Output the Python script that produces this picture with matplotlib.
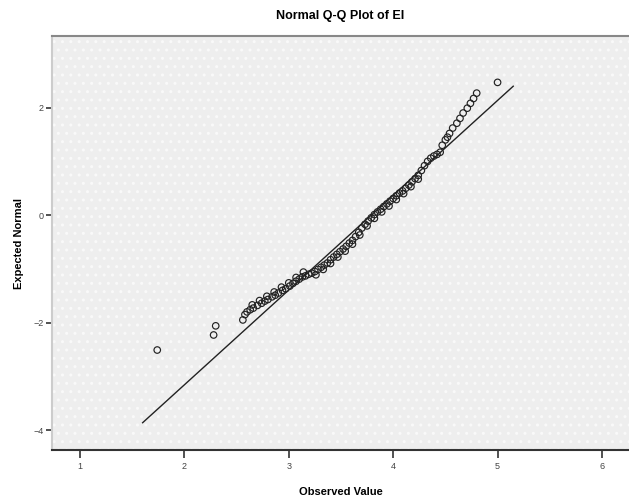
import numpy as np
import matplotlib
matplotlib.use("Agg")
import matplotlib.pyplot as plt
from matplotlib.patches import Rectangle

plt.rcParams['font.family'] = ['Liberation Sans', 'DejaVu Sans']

observed = [1.74, 2.28, 2.30,
            # lower band
            2.56, 2.60, 2.63, 2.66, 2.70, 2.74, 2.77, 2.80, 2.84, 2.87,
            2.90, 2.94, 2.97, 3.01, 3.04, 3.07, 3.10, 3.13, 3.16, 3.19,
            2.58, 2.65, 2.72, 2.79, 2.86, 2.93, 3.00, 3.07, 3.14,
            # middle band
            3.22, 3.25, 3.28, 3.31, 3.34, 3.37, 3.40, 3.43, 3.46, 3.49,
            3.52, 3.55, 3.58, 3.61, 3.64, 3.67, 3.70, 3.73, 3.76, 3.79,
            3.82, 3.85, 3.88, 3.91, 3.94, 3.97, 4.00, 4.03, 4.06, 4.09,
            4.12, 4.15, 4.18, 4.21, 4.24, 4.27,
            3.26, 3.33, 3.40, 3.47, 3.54, 3.61, 3.68, 3.75, 3.82, 3.89,
            3.96, 4.03, 4.10, 4.17, 4.24,
            # upper tail
            4.30, 4.33, 4.36, 4.39, 4.42, 4.45, 4.47, 4.50, 4.52, 4.54,
            4.57, 4.61, 4.64, 4.67, 4.71, 4.74, 4.77, 4.80, 5.00]
expected = [-2.51, -2.23, -2.06,
            -1.95, -1.80, -1.76, -1.73, -1.68, -1.64, -1.60, -1.57, -1.52, -1.49,
            -1.45, -1.40, -1.37, -1.32, -1.27, -1.23, -1.19, -1.15, -1.13, -1.10,
            -1.85, -1.67, -1.59, -1.51, -1.43, -1.34, -1.26, -1.16, -1.06,
            -1.08, -1.05, -1.01, -0.97, -0.93, -0.89, -0.83, -0.78, -0.73, -0.68,
            -0.63, -0.58, -0.52, -0.47, -0.40, -0.32, -0.24, -0.17, -0.11, -0.05,
            0.01, 0.06, 0.11, 0.16, 0.21, 0.26, 0.31, 0.36, 0.41, 0.45,
            0.50, 0.56, 0.62, 0.68, 0.74, 0.83,
            -1.11, -1.01, -0.90, -0.78, -0.67, -0.54, -0.37, -0.20, -0.06, 0.06,
            0.17, 0.29, 0.40, 0.53, 0.67,
            0.92, 1.00, 1.06, 1.10, 1.13, 1.17, 1.30, 1.40, 1.45, 1.52,
            1.62, 1.71, 1.80, 1.90, 1.99, 2.08, 2.17, 2.27, 2.47]

# reference line: normal with the sample mean / sd
ei_mean = 3.79
ei_sd = 0.567
line_x = np.array([1.60, 5.15])

x_ticks = [1, 2, 3, 4, 5, 6]
y_ticks = [2, 0, -2, -4]

fig = plt.figure(figsize=(6.29, 4.98), dpi=100)
ax = fig.add_axes([0.0827, 0.0964, 0.9173, 0.831])

# dotted grey background like SPSS
ax.set_facecolor('#eeeeee')
bg = Rectangle((0, 0), 1, 1, transform=ax.transAxes, facecolor='#eeeeee',
               edgecolor='#f9f9f9', hatch='..', linewidth=0, zorder=0)
ax.add_patch(bg)

ax.plot(line_x, (line_x - ei_mean) / ei_sd, color='#222222', lw=1.0, zorder=2)
ax.scatter(observed, expected, s=22, facecolors='none', edgecolors='#222222',
           linewidths=0.85, zorder=3)

ax.set_xlim(0.732, 6.259)
ax.set_ylim(-4.37, 3.33)
ax.set_xticks(x_ticks)
ax.set_yticks(y_ticks)
ax.tick_params(axis='x', direction='out', length=6, width=1.2, labelsize=6.5,
               color='#333333', labelcolor='#444444', pad=3)
ax.tick_params(axis='y', direction='out', length=4, width=1.2, labelsize=6.5,
               color='#333333', labelcolor='#444444', pad=2)

ax.spines['right'].set_visible(False)
ax.spines['top'].set_color('#888888')
ax.spines['top'].set_linewidth(1.5)
ax.spines['left'].set_color('#cccccc')
ax.spines['left'].set_linewidth(1.5)
ax.spines['bottom'].set_color('#333333')
ax.spines['bottom'].set_linewidth(1.5)

ax.set_title('Normal Q-Q Plot of EI', fontsize=9, fontweight='bold', pad=12)
ax.set_xlabel('Observed Value', fontsize=8, fontweight='bold', labelpad=11)
ax.set_ylabel('Expected Normal', fontsize=8, fontweight='bold', labelpad=7)

fig.savefig('out.png', dpi=100)
